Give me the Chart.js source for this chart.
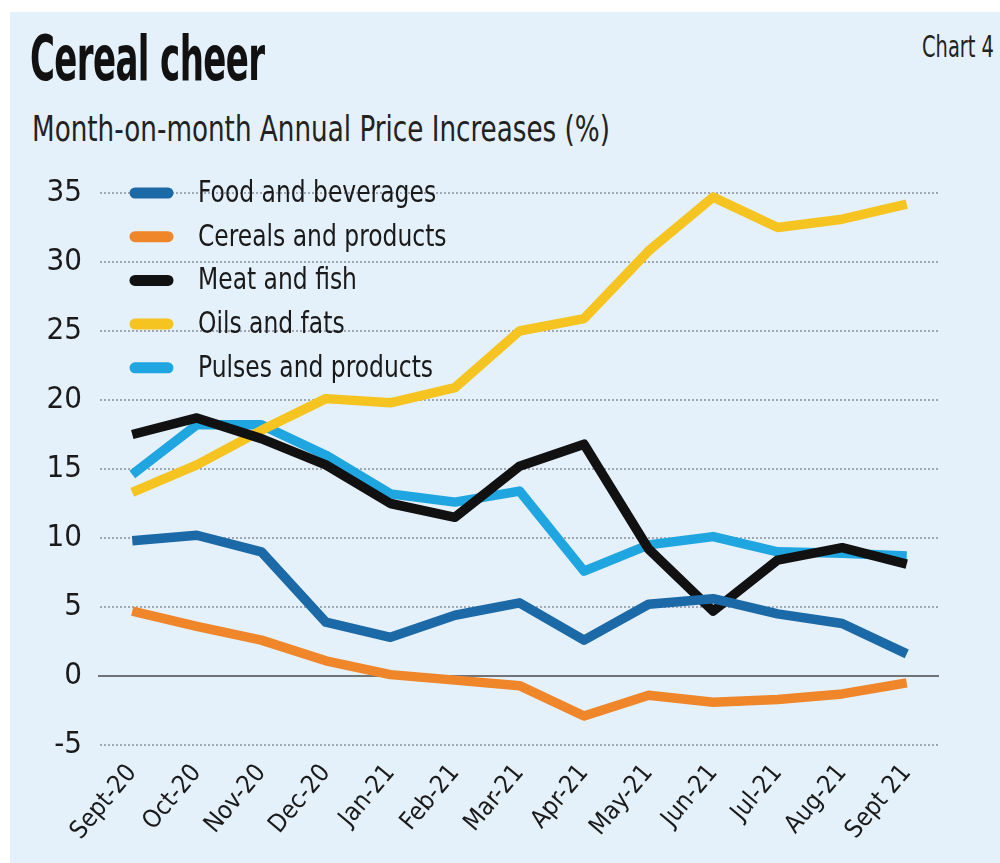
<!DOCTYPE html>
<html>
<head>
<meta charset="utf-8">
<script src="https://cdn.jsdelivr.net/npm/chart.js@4"></script>
<style>
  body { margin: 0; background: #fff; width: 1000px; height: 863px; overflow: hidden; position: relative; }
  #panel { position: absolute; left: 10px; top: 12px; width: 990px; height: 851px; background: #e4f1fb; }
  .txt { position: absolute; font-family: 'Liberation Sans Narrow', 'DejaVu Sans Condensed', sans-serif; color: #111; white-space: nowrap; transform-origin: left top; }
  #title { left: 30px; top: 22px; font-size: 62px; font-weight: bold; transform: scaleX(0.61); letter-spacing: -1px; }
  #sub { left: 32px; top: 108px; font-size: 36px; color: #222; transform: scaleX(0.81); }
  #tag { left: 922px; top: 29px; font-size: 30px; color: #222; transform: scaleX(0.72); }
  #wrap { position: absolute; left: 0; top: 150px; width: 1000px; height: 713px; }
</style>
</head>
<body>
<div id="panel"></div>
<div class="txt" id="title">Cereal cheer</div>
<div class="txt" id="sub">Month-on-month Annual Price Increases (%)</div>
<div class="txt" id="tag">Chart 4</div>
<div id="wrap"><canvas id="chart"></canvas></div>
<script>
var months = ["Sept-20", "Oct-20", "Nov-20", "Dec-20", "Jan-21", "Feb-21", "Mar-21", "Apr-21", "May-21", "Jun-21", "Jul-21", "Aug-21", "Sept 21"];

var food_beverages = [9.8, 10.2, 9.0, 3.9, 2.8, 4.4, 5.3, 2.6, 5.2, 5.6, 4.5, 3.8, 1.6];
var cereals_products = [4.7, 3.6, 2.6, 1.1, 0.1, -0.3, -0.7, -2.9, -1.4, -1.9, -1.7, -1.3, -0.5];
var meat_fish = [17.5, 18.7, 17.2, 15.3, 12.5, 11.5, 15.2, 16.8, 9.2, 4.7, 8.4, 9.3, 8.1];
var oils_fats = [13.3, 15.3, 17.8, 20.1, 19.8, 20.9, 25.0, 25.9, 30.8, 34.7, 32.5, 33.1, 34.2];
var pulses_products = [14.6, 18.2, 18.2, 16.0, 13.2, 12.6, 13.4, 7.6, 9.5, 10.1, 9.0, 8.9, 8.7];

var series_names = ["Food and beverages", "Cereals and products", "Meat and fish", "Oils and fats", "Pulses and products"];
var series_colors = ["#1b69a6", "#f0862a", "#111111", "#f6c420", "#1fa5e0"];
var y_ticks = [-5, 0, 5, 10, 15, 20, 25, 30, 35];

var font_family = "'Liberation Sans Narrow', 'DejaVu Sans Condensed', sans-serif";

var make_line = function(i, data) {
  return {
    label: series_names[i],
    data: data,
    borderColor: series_colors[i],
    backgroundColor: series_colors[i],
    borderWidth: 9.5,
    pointRadius: 0,
    tension: 0,
    fill: false,
    borderJoinStyle: "round",
    clip: false
  };
};

// solid zero line on top of the dotted grid
var zero_line = {
  id: "zero_line",
  beforeDatasetsDraw: function(chart) {
    var ctx = chart.ctx;
    var area = chart.chartArea;
    var y = chart.scales.y.getPixelForValue(0);
    ctx.save();
    ctx.strokeStyle = "#707479";
    ctx.lineWidth = 2;
    ctx.beginPath();
    ctx.moveTo(area.left - 2, y);
    ctx.lineTo(area.right, y);
    ctx.stroke();
    ctx.restore();
  }
};

// legend drawn inside the plot, top-left, like the print chart
var inner_legend = {
  id: "inner_legend",
  afterDatasetsDraw: function(chart) {
    var ctx = chart.ctx;
    var area = chart.chartArea;
    ctx.save();
    ctx.font = "31px " + font_family;
    ctx.textBaseline = "middle";
    chart.data.datasets.forEach(function(ds, i) {
      var y = area.top + i * 43.7;
      ctx.strokeStyle = ds.borderColor;
      ctx.lineWidth = 11;
      ctx.lineCap = "round";
      ctx.beginPath();
      ctx.moveTo(area.left + 35, y);
      ctx.lineTo(area.left + 68, y);
      ctx.stroke();
      ctx.fillStyle = "#1a1a1a";
      ctx.save();
      ctx.translate(area.left + 98, y + 1);
      ctx.scale(0.84, 1);
      ctx.fillText(ds.label, 0, 0);
      ctx.restore();
    });
    ctx.restore();
  }
};

var chart = new Chart("chart", {
  type: "line",
  data: {
    labels: months,
    datasets: [
      make_line(0, food_beverages),
      make_line(1, cereals_products),
      make_line(2, meat_fish),
      make_line(3, oils_fats),
      make_line(4, pulses_products)
    ]
  },
  options: {
    responsive: true,
    maintainAspectRatio: false,
    animation: false,
    layout: { padding: { top: 43, right: 61, bottom: 6, left: 0 } },
    plugins: {
      legend: { display: false },
      tooltip: { enabled: false }
    },
    scales: {
      x: {
        offset: true,
        grid: { display: false },
        border: { display: false },
        ticks: {
          minRotation: 50,
          maxRotation: 50,
          padding: 6,
          color: "#1a1a1a",
          font: { family: font_family, size: 25 }
        },
        afterFit: function(scale) { scale.height = 112; }
      },
      y: {
        min: -5,
        max: 35,
        afterBuildTicks: function(scale) {
          scale.ticks = y_ticks.map(function(v) { return { value: v }; });
        },
        afterFit: function(scale) { scale.width = 100; },
        border: { display: false, dash: [2, 2] },
        grid: {
          drawTicks: false,
          lineWidth: 2,
          color: "#a0a7b4"
        },
        ticks: {
          padding: 18,
          color: "#1a1a1a",
          font: { family: font_family, size: 31 }
        }
      }
    }
  },
  plugins: [zero_line, inner_legend]
});
</script>
</body>
</html>
